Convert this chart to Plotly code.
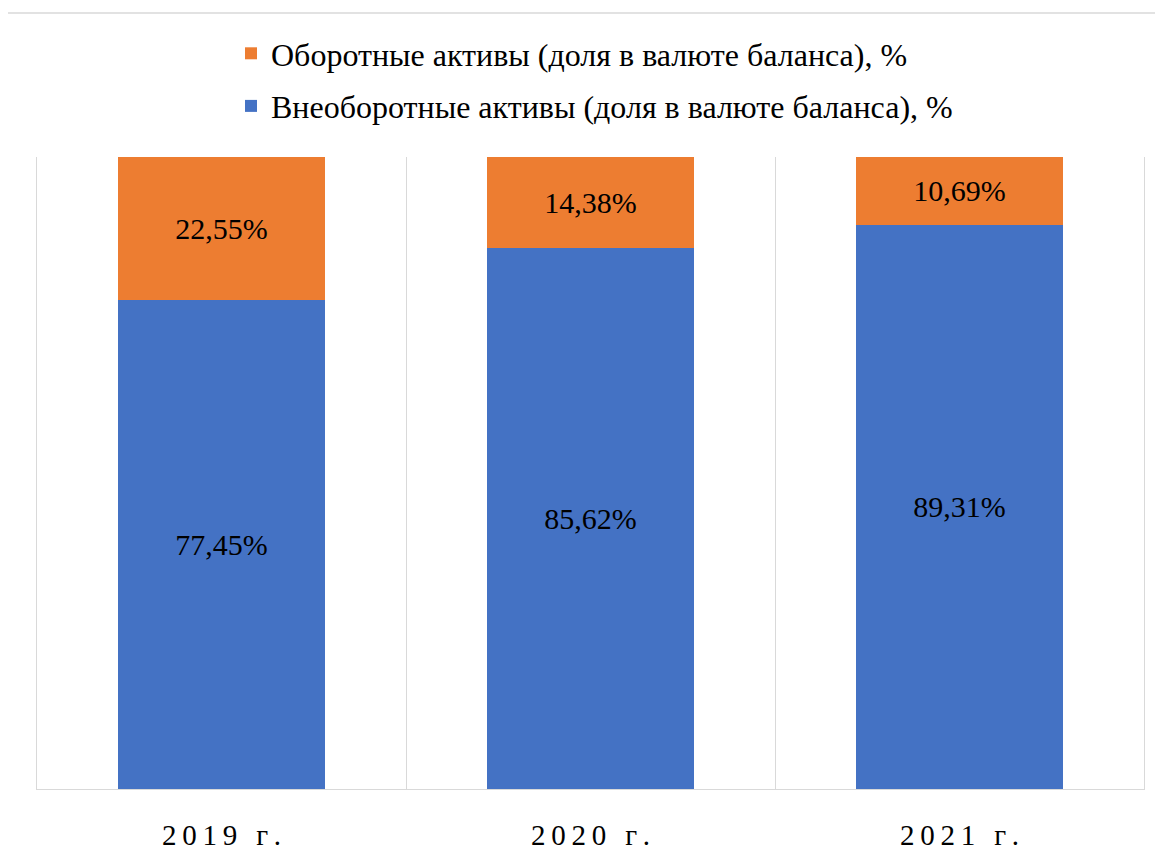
import plotly.graph_objects as go

categories = ["2019 г.", "2020 г.", "2021 г."]
noncurrent = [77.45, 85.62, 89.31]
current = [22.55, 14.38, 10.69]
name_noncurrent = "Внеоборотные активы (доля в валюте баланса), %"
name_current = "Оборотные активы (доля в валюте баланса), %"

def fmt(v):
    return f"{v:.2f}".replace(".", ",") + "%"

def spaced(s):
    return "\u2009".join(list(s))

FONT = "Liberation Serif"

fig = go.Figure()
fig.add_trace(go.Bar(
    x=categories, y=noncurrent, name=name_noncurrent,
    marker=dict(color="#4472C4", line=dict(width=0)),
    text=[fmt(v) for v in noncurrent], textposition="inside",
    insidetextanchor="middle", textangle=0,
    textfont=dict(family=FONT, size=30, color="black"),
    legendgroup="a", legendrank=2, hoverinfo="skip",
))
fig.add_trace(go.Bar(
    x=categories, y=current, name=name_current,
    marker=dict(color="#ED7D31", line=dict(width=0)),
    text=[fmt(v) for v in current], textposition="inside",
    insidetextanchor="middle", textangle=0,
    textfont=dict(family=FONT, size=30, color="black"),
    legendgroup="b", legendrank=1, hoverinfo="skip",
))

OFF = 8
W, H = 1163 - OFF, 855 - OFF
L, R, T, B = 37 - OFF, 19, 157 - OFF, 66
pw, ph = W - L - R, H - T - B

fig.update_layout(
    width=W, height=H,
    barmode="stack", bargap=0.44,
    paper_bgcolor="white", plot_bgcolor="white",
    margin=dict(l=L, r=R, t=T, b=B, autoexpand=False),
    font=dict(family=FONT, size=30, color="black"),
    showlegend=True,
    legend=dict(
        orientation="v", traceorder="grouped", tracegroupgap=8,
        xref="container", yref="container",
        x=(231 - OFF) / W, xanchor="left", y=1 - (26 - OFF) / H, yanchor="top",
        font=dict(family=FONT, size=32, color="black"),
        bgcolor="rgba(0,0,0,0)", borderwidth=0,
    ),
    uniformtext=dict(minsize=26, mode="show"),
    xaxis=dict(
        type="category", tickson="boundaries", showgrid=True,
        gridcolor="#D9D9D9", gridwidth=1.3,
        showline=True, linecolor="#D9D9D9", linewidth=1.3,
        ticks="", ticklabelstandoff=20,
        tickmode="array", tickvals=categories,
        ticktext=[spaced(c) for c in categories],
        tickfont=dict(family=FONT, size=29, color="black"),
        fixedrange=True,
    ),
    yaxis=dict(
        range=[0, 100], showgrid=False, zeroline=False,
        showticklabels=False, ticks="", showline=True, mirror=True,
        linecolor="#D9D9D9", linewidth=1.3, fixedrange=True,
    ),
    shapes=[dict(
        type="rect", xref="paper", yref="paper",
        x0=(7 - 37) / pw, x1=1.2, y0=-0.3, y1=(789 - 13) / ph,
        line=dict(color="#D9D9D9", width=1.3), fillcolor="rgba(0,0,0,0)",
        layer="below",
    )],
)

fig.write_html("out.html")
